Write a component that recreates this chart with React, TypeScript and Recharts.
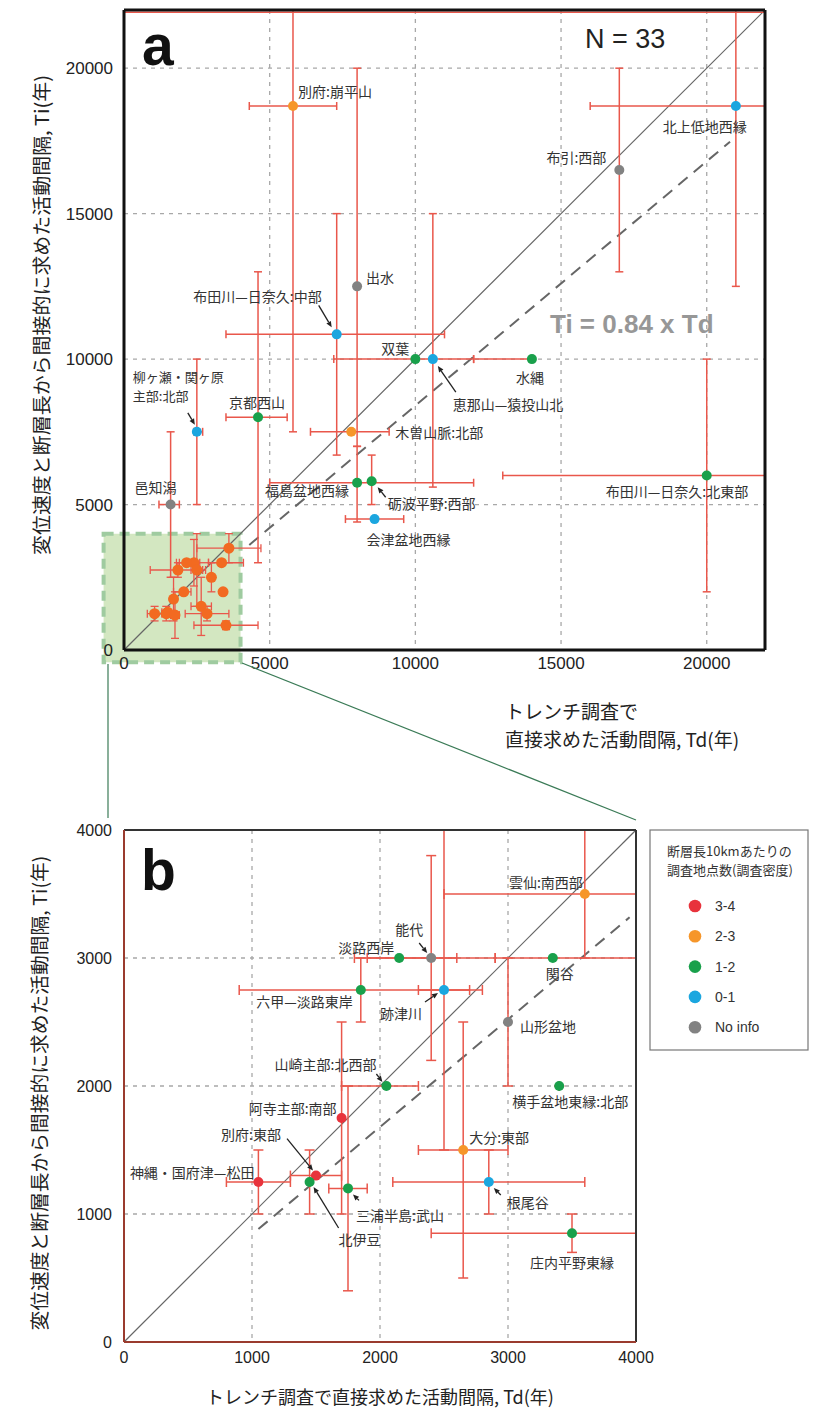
import React from 'react';
import {
  ScatterChart,
  Scatter,
  XAxis,
  YAxis,
  CartesianGrid,
  ErrorBar,
  ReferenceLine,
  ReferenceArea,
} from 'recharts';

// ---------------- DATA ----------------
// Panel a : faults with long recurrence intervals (Td = trench, Ti = indirect)
const aNames = [
  '別府:崩平山', '出水', '布田川—日奈久:中部', '北上低地西縁', '布引:西部', '双葉',
  '恵那山—猿投山北', '水縄', '木曽山脈:北部', '柳ヶ瀬・関ヶ原主部:北部', '京都西山',
  '邑知潟', '福島盆地西縁', '砺波平野:西部', '会津盆地西縁', '布田川—日奈久:北東部',
];
const aDensity = ['2-3', 'No info', '0-1', '0-1', 'No info', '1-2', '0-1', '1-2', '2-3', '0-1', '1-2', 'No info', '1-2', '1-2', '0-1', '1-2'];
const aTd = [5800, 8000, 7300, 21000, 17000, 10000, 10600, 14000, 7800, 2500, 4600, 1600, 8000, 8500, 8600, 20000];
const aTdLow = [4300, 8000, 3500, 16000, 17000, 7200, 10600, 12000, 6400, 2400, 3500, 1200, 5000, 8500, 7600, 13000];
const aTdHigh = [7300, 8000, 11000, 24000, 17000, 12000, 10600, 14000, 9100, 2700, 5600, 1900, 12000, 8500, 9600, 24000];
const aTi = [18700, 12500, 10850, 18700, 16500, 10000, 10000, 10000, 7500, 7500, 8000, 5000, 5750, 5800, 4500, 6000];
const aTiLow = [7500, 7000, 6700, 12500, 13000, 10000, 5600, 10000, 7500, 5000, 3000, 2500, 4400, 5000, 4500, 2000];
const aTiHigh = [30000, 20000, 15000, 30000, 20000, 10000, 15000, 10000, 7500, 10000, 13000, 7500, 7000, 6700, 4500, 10000];

// Panel b : faults with Td, Ti < 4000 years
const bNames = [
  '雲仙:南西部', '能代', '淡路西岸', '関谷', '六甲—淡路東岸', '跡津川', '山形盆地',
  '山崎主部:北西部', '横手盆地東縁:北部', '阿寺主部:南部', '大分:東部', '別府:東部',
  '神縄・国府津—松田', '北伊豆', '三浦半島:武山', '根尾谷', '庄内平野東縁',
];
const bDensity = ['2-3', 'No info', '1-2', '1-2', '1-2', '0-1', 'No info', '1-2', '1-2', '3-4', '2-3', '3-4', '3-4', '1-2', '1-2', '0-1', '1-2'];
const bTd = [3600, 2400, 2150, 3350, 1850, 2500, 3000, 2050, 3400, 1700, 2650, 1500, 1050, 1450, 1750, 2850, 3500];
const bTdLow = [2500, 1900, 1800, 2900, 900, 2300, 3000, 1700, 3400, 1700, 2300, 1300, 800, 1450, 1600, 2100, 2400];
const bTdHigh = [4700, 2900, 2600, 4100, 2700, 2800, 3000, 2300, 3400, 1700, 3000, 1700, 1300, 1450, 1900, 3600, 4600];
const bTi = [3500, 3000, 3000, 3000, 2750, 2750, 2500, 2000, 2000, 1750, 1500, 1300, 1250, 1250, 1200, 1250, 850];
const bTiLow = [3000, 2200, 3000, 3000, 2500, 1500, 2000, 2000, 2000, 1000, 500, 1300, 1000, 1000, 400, 1000, 700];
const bTiHigh = [4000, 3800, 3000, 3000, 3000, 4000, 3000, 2000, 2000, 2500, 2500, 1300, 1500, 1500, 2000, 1500, 1000];

const densityCategories = ['3-4', '2-3', '1-2', '0-1', 'No info'];
const slopeFit = 0.84; // Ti = 0.84 x Td
const fitRangeA = [4300, 20800];
const fitRangeB = [1050, 3950];
const ticksA = [0, 5000, 10000, 15000, 20000];
const ticksB = [0, 1000, 2000, 3000, 4000];
const domainA = [0, 22000];
const domainB = [0, 4000];
const N_TOTAL = aNames.length + bNames.length;

// ---------------- STYLE ----------------
const FONT_LATIN = '"Liberation Sans", Arial, Helvetica, sans-serif';
const FONT_CJK = '"Noto Sans CJK JP", "Noto Sans", sans-serif';
const DENSITY_COLORS: Record<string, string> = {
  '3-4': '#e8333c',
  '2-3': '#f6962a',
  '1-2': '#19a04b',
  '0-1': '#1ba6df',
  'No info': '#828282',
};
const CLUSTER_COLOR = '#f26a21';
const ERR_COLOR = '#e9574b';
const GRID_COLOR = '#a8a8a8';

type LabelSpec = {
  dx: number;
  dy: number;
  anchor: 'start' | 'middle' | 'end';
  lines?: string[];
  size?: number;
  lineGap?: number;
  arrow?: [number, number, number, number];
};

const labelsA: Record<string, LabelSpec> = {
  '別府:崩平山': { dx: 5, dy: -15, anchor: 'start' },
  '出水': { dx: 9, dy: -9, anchor: 'start' },
  '布田川—日奈久:中部': { dx: -15, dy: -38, anchor: 'end', arrow: [-18, -29, -5, -7] },
  '北上低地西縁': { dx: -31, dy: 20, anchor: 'middle' },
  '布引:西部': { dx: -13, dy: -13, anchor: 'end' },
  '双葉': { dx: -6, dy: -11, anchor: 'end' },
  '恵那山—猿投山北': { dx: 20, dy: 45, anchor: 'start', arrow: [23, 33, 5, 7] },
  '水縄': { dx: -2, dy: 18, anchor: 'middle' },
  '木曽山脈:北部': { dx: 44, dy: 0, anchor: 'start' },
  '柳ヶ瀬・関ヶ原主部:北部': {
    dx: -64, dy: -56, anchor: 'start', size: 13, lineGap: 19,
    lines: ['柳ヶ瀬・関ヶ原', '主部:北部'], arrow: [-9, -19, -2, -7],
  },
  '京都西山': { dx: -1, dy: -15, anchor: 'middle' },
  '邑知潟': { dx: -36, dy: -18, anchor: 'start' },
  '福島盆地西縁': { dx: -8, dy: 7, anchor: 'end' },
  '砺波平野:西部': { dx: 16, dy: 22, anchor: 'start', arrow: [14, 16, 6, 6] },
  '会津盆地西縁': { dx: -8, dy: 20, anchor: 'start' },
  '布田川—日奈久:北東部': { dx: -101, dy: 16, anchor: 'start' },
};

const labelsB: Record<string, LabelSpec> = {
  '雲仙:南西部': { dx: -2, dy: -12, anchor: 'end' },
  '能代': { dx: -22, dy: -29, anchor: 'middle', arrow: [-12, -15, -4, -5] },
  '淡路西岸': { dx: -5, dy: -11, anchor: 'end' },
  '関谷': { dx: 7, dy: 15, anchor: 'middle' },
  '六甲—淡路東岸': { dx: -8, dy: 11, anchor: 'end' },
  '跡津川': { dx: -22, dy: 23, anchor: 'end', arrow: [-19, 12, -6, 3] },
  '山形盆地': { dx: 12, dy: 4, anchor: 'start' },
  '山崎主部:北西部': { dx: -10, dy: -22, anchor: 'end', arrow: [-10, -12, -4, -4] },
  '横手盆地東縁:北部': { dx: 11, dy: 15, anchor: 'middle' },
  '阿寺主部:南部': { dx: -5, dy: -10, anchor: 'end' },
  '大分:東部': { dx: 6, dy: -13, anchor: 'start' },
  '別府:東部': { dx: -35, dy: -42, anchor: 'end', arrow: [-29, -37, -3, -5] },
  '神縄・国府津—松田': { dx: -4, dy: -10, anchor: 'end' },
  '北伊豆': { dx: 50, dy: 57, anchor: 'middle', arrow: [29, 46, 4, 5] },
  '三浦半島:武山': { dx: 8, dy: 27, anchor: 'start', arrow: [11, 12, 5, 6] },
  '根尾谷': { dx: 18, dy: 20, anchor: 'start', arrow: [12, 13, 5, 6] },
  '庄内平野東縁': { dx: 0, dy: 29, anchor: 'middle' },
};

// ---------------- BUILT TABLES ----------------
// error extents are clipped to the visible axis domain (bars run into the frame)
function buildTable(
  names: string[], density: string[],
  td: number[], tdLo: number[], tdHi: number[],
  ti: number[], tiLo: number[], tiHi: number[],
  domain: number[],
) {
  const clip = (v: number) => Math.max(domain[0], Math.min(domain[1], v));
  return names.map((name, i) => ({
    name,
    density: density[i],
    td: td[i],
    ti: ti[i],
    ex: [td[i] - clip(tdLo[i]), clip(tdHi[i]) - td[i]],
    ey: [ti[i] - clip(tiLo[i]), clip(tiHi[i]) - ti[i]],
  }));
}
const aData = buildTable(aNames, aDensity, aTd, aTdLow, aTdHigh, aTi, aTiLow, aTiHigh, domainA);
const bDataInA = buildTable(bNames, bDensity, bTd, bTdLow, bTdHigh, bTi, bTiLow, bTiHigh, domainA);
const bData = buildTable(bNames, bDensity, bTd, bTdLow, bTdHigh, bTi, bTiLow, bTiHigh, domainB);

// ---------------- HELPERS ----------------
function Arrow({ x1, y1, x2, y2 }: { x1: number; y1: number; x2: number; y2: number }) {
  const ang = Math.atan2(y2 - y1, x2 - x1);
  const L = 6;
  const W = 2.6;
  const bx = x2 - L * Math.cos(ang);
  const by = y2 - L * Math.sin(ang);
  const px = -Math.sin(ang) * W;
  const py = Math.cos(ang) * W;
  return (
    <g>
      <line x1={x1} y1={y1} x2={bx} y2={by} stroke="#222" strokeWidth={1.3} />
      <polygon points={`${x2},${y2} ${bx + px},${by + py} ${bx - px},${by - py}`} fill="#222" />
    </g>
  );
}

function makeShape(labels: Record<string, LabelSpec> | null, r: number, fixedColor?: string) {
  return (props: any) => {
    const { cx, cy, payload } = props;
    if (cx == null || cy == null) return <g />;
    const spec = labels ? labels[payload.name] : undefined;
    const fill = fixedColor || DENSITY_COLORS[payload.density];
    const lines = spec ? spec.lines || [payload.name] : [];
    return (
      <g>
        <circle cx={cx} cy={cy} r={r} fill={fill} />
        {spec && (
          <text
            x={cx + spec.dx}
            y={cy + spec.dy}
            textAnchor={spec.anchor}
            dominantBaseline="central"
            fontFamily={FONT_CJK}
            fontSize={spec.size || 14}
            fill="#333"
          >
            {lines.map((ln, k) => (
              <tspan key={k} x={cx + spec.dx} dy={k === 0 ? 0 : spec.lineGap || 17}>
                {ln}
              </tspan>
            ))}
          </text>
        )}
        {spec && spec.arrow && (
          <Arrow
            x1={cx + spec.arrow[0]}
            y1={cy + spec.arrow[1]}
            x2={cx + spec.arrow[2]}
            y2={cy + spec.arrow[3]}
          />
        )}
      </g>
    );
  };
}

const tickStyleA = { fontSize: 17, fill: '#222', fontFamily: FONT_LATIN };
const tickStyleB = { fontSize: 16, fill: '#222', fontFamily: FONT_LATIN };

// ---------------- APP ----------------
export default function App() {
  const B = { left: 124, top: 830, w: 512, h: 512 };
  const zoomPad = 700; // years padding of zoom box in panel a

  return (
    <div style={{ position: 'absolute', left: 0, top: 0, width: 816, height: 1419, background: '#fff', overflow: 'hidden' }}>
      {/* Panel a */}
      <div style={{ position: 'absolute', left: 0, top: 0 }}>
        <ScatterChart width={816} height={700} margin={{ top: 10, right: 51, bottom: 20, left: 64 }}>
          <ReferenceArea
            x1={-zoomPad}
            x2={domainB[1]}
            y1={-zoomPad * 0.6}
            y2={domainB[1]}
            ifOverflow="visible"
            fill="#d3e7c1"
            fillOpacity={1}
            stroke="#9fcba0"
            strokeWidth={4}
            strokeDasharray="10 6"
          />
          <CartesianGrid strokeDasharray="4 5" stroke={GRID_COLOR} strokeWidth={1.3} />
          <XAxis
            type="number"
            dataKey="td"
            domain={domainA}
            ticks={ticksA}
            allowDataOverflow
            axisLine={false}
            tickLine={false}
            tickSize={0}
            tickMargin={7}
            height={30}
            tick={tickStyleA}
          />
          <YAxis
            type="number"
            dataKey="ti"
            domain={domainA}
            ticks={ticksA}
            allowDataOverflow
            axisLine={false}
            tickLine={false}
            tickSize={0}
            tickMargin={11}
            width={60}
            tick={tickStyleA}
          />
          <ReferenceLine
            segment={[{ x: domainA[0], y: domainA[0] }, { x: domainA[1], y: domainA[1] }]}
            stroke="#666"
            strokeWidth={1.2}
          />
          <ReferenceLine
            segment={[
              { x: fitRangeA[0], y: fitRangeA[0] * slopeFit },
              { x: fitRangeA[1], y: fitRangeA[1] * slopeFit },
            ]}
            stroke="#666"
            strokeWidth={2}
            strokeDasharray="12 8"
          />
          <Scatter data={aData} isAnimationActive={false} shape={makeShape(labelsA, 5)}>
            <ErrorBar dataKey="ex" direction="x" width={4} stroke={ERR_COLOR} strokeWidth={1.5} />
            <ErrorBar dataKey="ey" direction="y" width={4} stroke={ERR_COLOR} strokeWidth={1.5} />
          </Scatter>
          <Scatter data={bDataInA} isAnimationActive={false} shape={makeShape(null, 5.5, CLUSTER_COLOR)}>
            <ErrorBar dataKey="ex" direction="x" width={4} stroke={ERR_COLOR} strokeWidth={1.3} />
            <ErrorBar dataKey="ey" direction="y" width={4} stroke={ERR_COLOR} strokeWidth={1.3} />
          </Scatter>
          <ReferenceLine y={21920} stroke={ERR_COLOR} strokeWidth={1.5} />
          <ReferenceLine x={domainA[0]} stroke="#111" strokeWidth={3} />
          <ReferenceLine x={domainA[1]} stroke="#111" strokeWidth={3} />
          <ReferenceLine y={domainA[0]} stroke="#111" strokeWidth={3} />
          <ReferenceLine y={domainA[1]} stroke="#111" strokeWidth={3} />
        </ScatterChart>
      </div>

      {/* Panel b */}
      <div style={{ position: 'absolute', left: 0, top: 780 }}>
        <ScatterChart width={816} height={620} margin={{ top: 50, right: 180, bottom: 28, left: 64 }}>
          <CartesianGrid strokeDasharray="4 5" stroke={GRID_COLOR} strokeWidth={1.3} />
          <XAxis
            type="number"
            dataKey="td"
            domain={domainB}
            ticks={ticksB}
            allowDataOverflow
            axisLine={false}
            tickLine={false}
            tickSize={0}
            tickMargin={10}
            height={30}
            tick={tickStyleB}
          />
          <YAxis
            type="number"
            dataKey="ti"
            domain={domainB}
            ticks={ticksB}
            allowDataOverflow
            axisLine={false}
            tickLine={false}
            tickSize={0}
            tickMargin={12}
            width={60}
            tick={tickStyleB}
          />
          <ReferenceLine
            segment={[{ x: domainB[0], y: domainB[0] }, { x: domainB[1], y: domainB[1] }]}
            stroke="#666"
            strokeWidth={1.2}
          />
          <ReferenceLine
            segment={[
              { x: fitRangeB[0], y: fitRangeB[0] * slopeFit },
              { x: fitRangeB[1], y: fitRangeB[1] * slopeFit },
            ]}
            stroke="#666"
            strokeWidth={2}
            strokeDasharray="12 8"
          />
          <Scatter data={bData} isAnimationActive={false} shape={makeShape(labelsB, 5)}>
            <ErrorBar dataKey="ex" direction="x" width={5} stroke={ERR_COLOR} strokeWidth={1.5} />
            <ErrorBar dataKey="ey" direction="y" width={5} stroke={ERR_COLOR} strokeWidth={1.5} />
          </Scatter>
          <ReferenceLine y={domainB[1]} stroke="#333" strokeWidth={2} />
          <ReferenceLine x={domainB[1]} stroke="#333" strokeWidth={2} />
          <ReferenceLine x={domainB[0]} stroke="#9a3b2e" strokeWidth={2} />
          <ReferenceLine y={domainB[0]} stroke="#9a3b2e" strokeWidth={2} />
        </ScatterChart>
      </div>

      {/* Overlay: titles, annotations, connectors, legend */}
      <svg
        width={816}
        height={1419}
        style={{ position: 'absolute', left: 0, top: 0, pointerEvents: 'none' }}
      >
        {/* connectors from zoom box to panel b */}
        <line x1={108} y1={664} x2={108} y2={B.top - 12} stroke="#3b7b57" strokeWidth={1.2} />
        <line x1={242} y1={663} x2={B.left + B.w} y2={B.top - 10} stroke="#3b7b57" strokeWidth={1.2} />

        {/* panel letters */}
        <text x={142} y={65} fontFamily={FONT_LATIN} fontWeight="bold" fontSize={57} fill="#111">a</text>
        <text x={141} y={890} fontFamily={FONT_LATIN} fontWeight="bold" fontSize={57} fill="#111">b</text>

        <text x={585} y={48} fontFamily={FONT_LATIN} fontSize={27} fill="#222">{`N = ${N_TOTAL}`}</text>
        <text x={550} y={333} fontFamily={FONT_LATIN} fontWeight="bold" fontSize={26} fill="#979797">
          {`Ti = ${slopeFit} x Td`}
        </text>

        {/* axis titles panel a */}
        <text
          x={40}
          y={315}
          transform="rotate(-90 40 315)"
          textAnchor="middle"
          dominantBaseline="central"
          fontFamily={FONT_CJK}
          fontSize={19}
          textLength={480}
          lengthAdjust="spacingAndGlyphs"
          fill="#222"
        >
          変位速度と断層長から間接的に求めた活動間隔, Ti(年)
        </text>
        <text fontFamily={FONT_CJK} fontSize={19} fill="#222">
          <tspan x={505} y={719}>トレンチ調査で</tspan>
          <tspan x={505} y={746.5}>直接求めた活動間隔, Td(年)</tspan>
        </text>

        {/* axis titles panel b */}
        <text
          x={38}
          y={1093}
          transform="rotate(-90 38 1093)"
          textAnchor="middle"
          dominantBaseline="central"
          fontFamily={FONT_CJK}
          fontSize={19}
          textLength={475}
          lengthAdjust="spacingAndGlyphs"
          fill="#222"
        >
          変位速度と断層長から間接的に求めた活動間隔, Ti(年)
        </text>
        <text x={380} y={1404} textAnchor="middle" fontFamily={FONT_CJK} fontSize={18} fill="#222">
          トレンチ調査で直接求めた活動間隔, Td(年)
        </text>

        {/* legend */}
        <rect x={650} y={830} width={158} height={220} fill="#fff" stroke="#777" strokeWidth={1.2} />
        <text fontFamily={FONT_CJK} fontSize={13} fill="#333">
          <tspan x={667} y={856}>断層長10kmあたりの</tspan>
          <tspan x={667} y={875}>調査地点数(調査密度)</tspan>
        </text>
        {densityCategories.map((c, i) => (
          <g key={c}>
            <circle cx={695} cy={906 + i * 30.3} r={6.3} fill={DENSITY_COLORS[c]} />
            <text x={715} y={906 + i * 30.3 + 5} fontFamily={FONT_LATIN} fontSize={14} fill="#333">
              {c}
            </text>
          </g>
        ))}
      </svg>
    </div>
  );
}
